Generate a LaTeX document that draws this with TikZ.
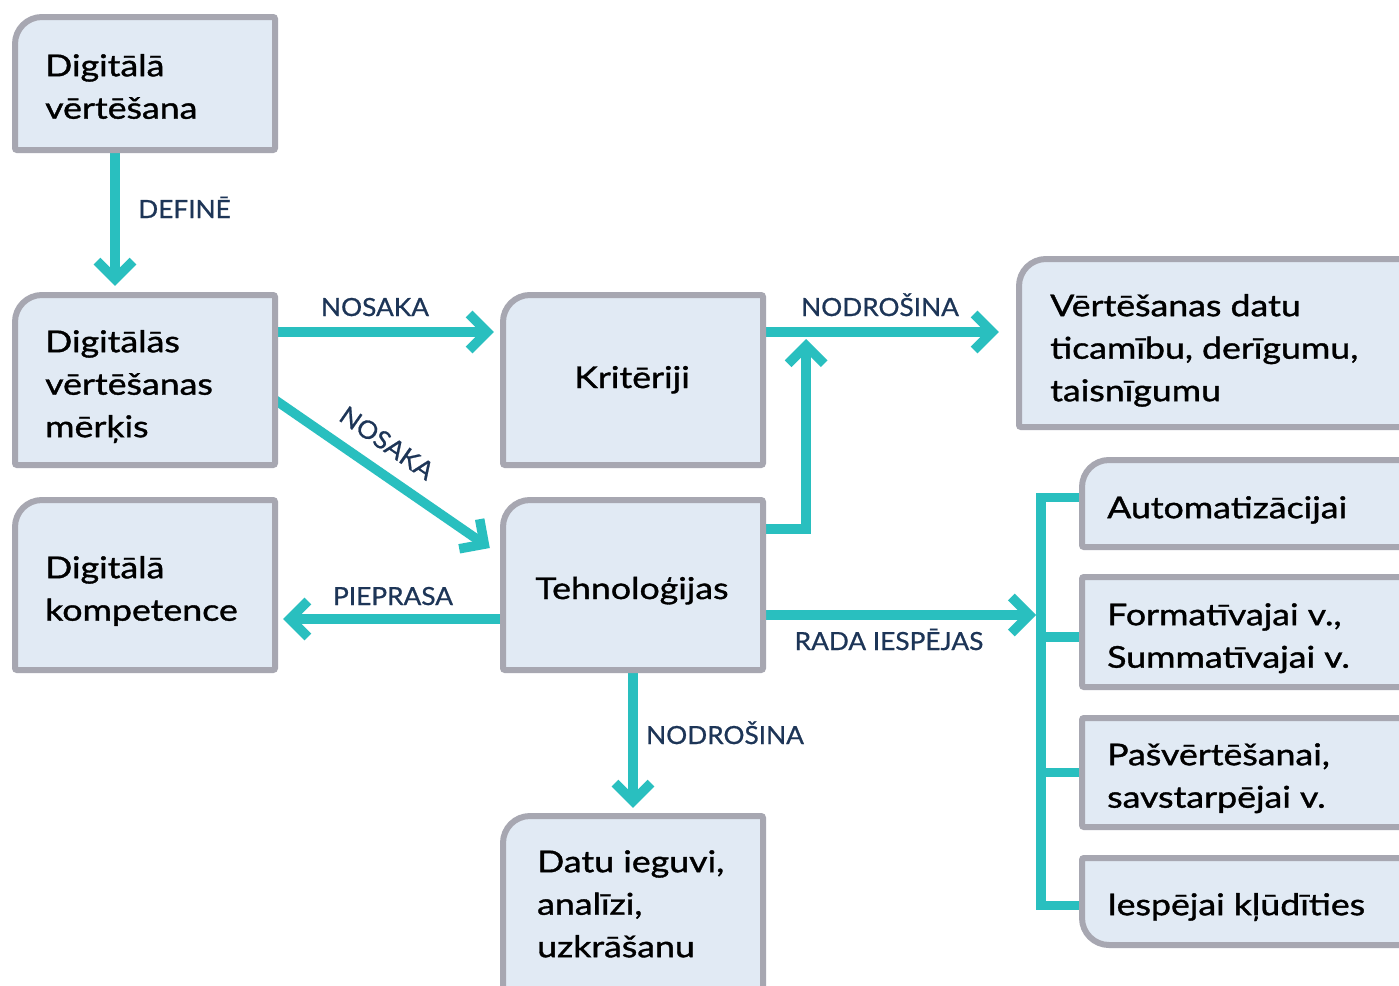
\documentclass[tikz,border=0pt]{standalone}
\usepackage{fontspec}
\setmainfont{Lato}
\newfontfamily\cardfont{Lato}[FakeStretch=1.19, FakeBold=1.2]
\newfontfamily\labfont{Lato}[FakeStretch=1.05, FakeBold=0.8]
\usetikzlibrary{arrows.meta,calc,backgrounds}

\definecolor{cardfill}{HTML}{E1EAF4}
\definecolor{cardline}{HTML}{A7A7B1}
\definecolor{linkteal}{HTML}{29BFBF}
\definecolor{labelnavy}{HTML}{1D3557}

\tikzset{
  cardedge/.style={fill=cardfill, draw=cardline, line width=6pt},
  cardnode/.style={draw=none, inner sep=0pt, rectangle},
  cardtext/.style={inner sep=0pt, align=left, text=black,
    font=\cardfont\fontsize{30}{42.5}\selectfont},
  lab/.style={inner sep=0pt, anchor=base, text=labelnavy,
    font=\labfont\fontsize{25}{30}\selectfont},
  arr/.style={draw=linkteal, line width=9.5pt, line cap=butt, line join=miter,
    -{Straight Barb[length=18pt, width=36pt, line cap=butt, line join=miter]}},
  bracket/.style={draw=linkteal, line width=9.5pt, line cap=butt, line join=miter},
}

% card: name, left, top, right, bottom, top-left radius, bottom-left radius
\newcommand\card[7]{%
  \filldraw[cardedge]
    ({#2},{#3+#6}) .. controls ({#2},{#3+0.448*#6}) and ({#2+0.448*#6},{#3}) .. ({#2+#6},{#3})
    -- ({#4-2},{#3}) .. controls ({#4-0.9},{#3}) and ({#4},{#3+0.9}) .. ({#4},{#3+2})
    -- ({#4},{#5-2}) .. controls ({#4},{#5-0.9}) and ({#4-0.9},{#5}) .. ({#4-2},{#5})
    -- ({#2+#7},{#5}) .. controls ({#2+0.448*#7},{#5}) and ({#2},{#5-0.448*#7}) .. ({#2},{#5-#7})
    -- cycle;
  \pgfmathsetmacro\cardw{#4-#2}%
  \pgfmathsetmacro\cardh{#5-#3}%
  \node[cardnode, minimum width=\cardw pt, minimum height=\cardh pt]
    (#1) at ({(#2+#4)/2},{(#3+#5)/2}) {};%
}
% left-aligned card text: name, x, first baseline, text
\newcommand\cardlines[4]{%
  \node[cardtext, anchor=north west] (#1) at (#2,{#3-29.75}) {\strut #4};%
}

\begin{document}
\begin{tikzpicture}[x=1pt, y=-1pt]
  \useasboundingbox (0,0) rectangle (1399,985);
  \begin{pgfonlayer}{background}
    \fill[white] (0,0) rectangle (1399,985);
  \end{pgfonlayer}
  \clip (0,0) rectangle (1399,985);

  % cards
  \card{b1}{15}{17}{275}{150}{27}{2}
  \card{b2}{15}{295}{275}{465}{27}{2}
  \card{b3}{15}{500}{275}{670}{27}{2}
  \card{krit}{503}{295}{763}{465}{27}{2}
  \card{tech}{503}{500}{763}{670}{27}{2}
  \card{datu}{503}{816}{763}{1010}{27}{2}
  \card{vert}{1019}{259}{1450}{427}{27}{2}
  \card{auto}{1082}{460}{1450}{547}{27}{2}
  \card{form}{1082}{577}{1450}{687}{2}{2}
  \card{pas}{1082}{718}{1450}{827}{2}{2}
  \card{iesp}{1082}{858}{1450}{945}{2}{27}

  % card texts
  \cardlines{b1t}{45}{76}{Digitālā\\vērtēšana}
  \cardlines{b2t}{45}{352}{Digitālās\\vērtēšanas\\mērķis}
  \cardlines{b3t}{45}{578}{Digitālā\\kompetence}
  \node[cardtext, anchor=base] (kritt) at (632,388) {Kritēriji};
  \node[cardtext, anchor=base] (techt) at (632,599) {Tehnoloģijas};
  \cardlines{datut}{537}{872}{Datu ieguvi,\\analīzi,\\uzkrāšanu}
  \cardlines{vertt}{1050}{316}{Vērtēšanas datu\\ticamību, derīgumu,\\taisnīgumu}
  \cardlines{autot}{1107}{518}{Automatizācijai}
  \cardlines{formt}{1107}{625}{Formatīvajai v.,\\Summatīvajai v.}
  \cardlines{past}{1107}{765}{Pašvērtēšanai,\\savstarpējai v.}
  \cardlines{iespt}{1107}{915}{Iespējai kļūdīties}

  % connectors
  \begin{pgfonlayer}{background}
    \draw[arr] ($(b1.south)+(-30,0)$) -- ($(b2.north)+(-30,-9)$);
    \draw[arr] ($(b2.east)+(0,-48)$) -- ($(krit.west)+(-9,-48)$);
    \coordinate (nd) at ($(krit.east)+(0,-48)$);
    \draw[arr] (nd) -- ($(vert.west |- nd)+(-20,0)$);
    \coordinate (upend) at ($(nd)+(43,7)$);
    \draw[arr] ($(tech.east)+(0,-56)$) -| (upend);
    \draw[arr] ($(b2.east)+(0,20)$) -- ($(tech.west)+(-13,-37)$);
    \draw[arr] ($(tech.west)+(0,34)$) -- ($(b3.east)+(8,34)$);
    \coordinate (spine) at (1041,700);
    \coordinate (rd) at ($(tech.east)+(0,30)$);
    \draw[arr] (rd) -- ($(rd -| spine)+(-5,0)$);
    \draw[arr] (tech.south) -- ($(datu.north)+(0,-8)$);
    \coordinate (ab) at ($(auto.west)+(0,-6)$);
    \coordinate (fb) at ($(form.west)+(0,5)$);
    \coordinate (pb) at (pas.west);
    \coordinate (ib) at ($(iesp.west)+(0,4)$);
    \draw[bracket] (ab) -| (spine) |- (ib);
    \draw[bracket] (fb -| spine) -- (fb);
    \draw[bracket] (pb -| spine) -- (pb);
  \end{pgfonlayer}

  % connector labels
  \node[lab] (ldefine) at (184.5,218) {DEFINĒ};
  \node[lab] (lnosaka) at (375,316) {NOSAKA};
  \node[lab] (lnodro) at (880,316) {NODROŠINA};
  \node[lab, anchor=center, rotate=-34.7] (lnosakad) at (387,443) {NOSAKA};
  \node[lab] (lpiepr) at (393,605) {PIEPRASA};
  \node[lab] (lrada) at (889,650) {RADA IESPĒJAS};
  \node[lab] (lnodrod) at (725,744) {NODROŠINA};
\end{tikzpicture}
\end{document}
